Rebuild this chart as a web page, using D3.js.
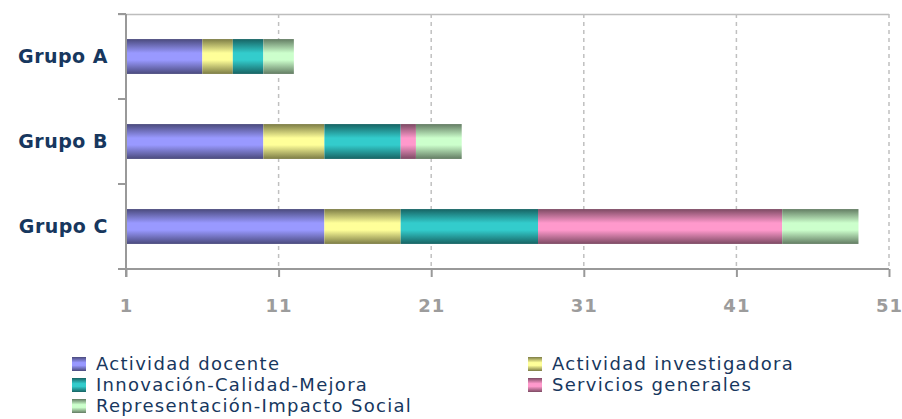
<!DOCTYPE html>
<html>
<head>
<meta charset="utf-8">
<script src="https://cdn.jsdelivr.net/npm/d3@7"></script>
<style>
  body { margin: 0; background: #fff; }
  svg { display: block; font-family: 'DejaVu Sans', sans-serif; }
</style>
</head>
<body>
<div id="chart"></div>
<script>
(() => {
  const categories = ['Grupo A', 'Grupo B', 'Grupo C'];
  const seriesNames = ['Actividad docente', 'Actividad investigadora', 'Innovación-Calidad-Mejora', 'Servicios generales', 'Representación-Impacto Social'];
  const docente = [5, 9, 13];
  const investigadora = [2, 4, 5];
  const innovacion = [2, 5, 9];
  const servicios = [0, 1, 16];
  const representacion = [2, 3, 5];
  const xTicks = [1, 11, 21, 31, 41, 51];
  const axisStart = 1;

  const colors = [
    { light: '#9999ff', dark: '#4a4a7c' },
    { light: '#ffff99', dark: '#7c7c45' },
    { light: '#33cccc', dark: '#176363' },
    { light: '#ff99cc', dark: '#7c4a63' },
    { light: '#ccffcc', dark: '#637c63' }
  ];

  const values = [docente, investigadora, innovacion, servicios, representacion];
  const rows = categories.map((c, i) => {
    const r = { cat: c };
    seriesNames.forEach((s, j) => r[s] = values[j][i]);
    return r;
  });

  const width = 902, height = 419;
  const margin = { top: 14, right: 13, bottom: 150, left: 126 };
  const w = width - margin.left - margin.right;
  const h = height - margin.top - margin.bottom;

  const svg = d3.select('#chart')
    .append('svg')
    .attr('width', width)
    .attr('height', height);

  // Gradientes tipo Excel
  const defs = svg.append('defs');
  colors.forEach((c, i) => {
    const g = defs.append('linearGradient')
      .attr('id', 'grad' + i)
      .attr('x1', 0).attr('y1', 0).attr('x2', 0).attr('y2', 1);
    g.append('stop').attr('offset', '0%').attr('stop-color', c.dark);
    g.append('stop').attr('offset', '40%').attr('stop-color', c.light);
    g.append('stop').attr('offset', '60%').attr('stop-color', c.light);
    g.append('stop').attr('offset', '100%').attr('stop-color', c.dark);
  });

  const g = svg.append('g')
    .attr('transform', `translate(${margin.left},${margin.top})`);

  const x = d3.scaleLinear()
    .domain([xTicks[0], xTicks[xTicks.length - 1]])
    .range([0, w]);

  const y = d3.scaleBand()
    .domain(categories)
    .range([0, h])
    .paddingInner(0.59)
    .paddingOuter(0.295);

  // Borde superior
  g.append('line')
    .attr('x1', -8).attr('x2', w)
    .attr('y1', 0.5).attr('y2', 0.5)
    .attr('stroke', '#bdbdbd').attr('stroke-width', 1.5);

  // Líneas de cuadrícula
  g.selectAll('.grid')
    .data(xTicks.slice(1))
    .enter()
    .append('line')
    .attr('class', 'grid')
    .attr('x1', d => x(d)).attr('x2', d => x(d))
    .attr('y1', 0).attr('y2', h)
    .attr('stroke', '#c0c0c0')
    .attr('stroke-width', 1.5)
    .attr('stroke-dasharray', '4,4');

  const stack = d3.stack().keys(seriesNames);
  const stacked = stack(rows);

  g.selectAll('.serie')
    .data(stacked)
    .enter()
    .append('g')
    .attr('class', 'serie')
    .attr('fill', (d, i) => `url(#grad${i})`)
    .selectAll('rect')
    .data(d => d)
    .enter()
    .append('rect')
    .attr('x', d => x(axisStart + d[0]))
    .attr('y', d => y(d.data.cat))
    .attr('width', d => x(axisStart + d[1]) - x(axisStart + d[0]))
    .attr('height', y.bandwidth());

  // Eje Y
  const yAxis = g.append('g')
    .call(d3.axisLeft(y).tickSize(0).tickPadding(18))
    .attr('font-family', null);
  yAxis.select('.domain').remove();
  yAxis.selectAll('text')
    .attr('fill', '#17375e')
    .attr('font-size', '19px')
    .attr('font-weight', 'bold')
    .attr('letter-spacing', '0.5px');

  const yLine = g.append('g');
  yLine.append('line')
    .attr('x1', 0).attr('x2', 0).attr('y1', 0).attr('y2', h + 8)
    .attr('stroke', '#999').attr('stroke-width', 2);
  yLine.selectAll('.ytick')
    .data(d3.range(categories.length + 1))
    .enter()
    .append('line')
    .attr('x1', -8).attr('x2', 0)
    .attr('y1', i => i * h / categories.length)
    .attr('y2', i => i * h / categories.length)
    .attr('stroke', '#999').attr('stroke-width', 2);

  // Eje X
  const xAxis = g.append('g')
    .attr('transform', `translate(0,${h})`)
    .call(d3.axisBottom(x).tickValues(xTicks).tickSize(8).tickPadding(22))
    .attr('font-family', null);
  xAxis.select('.domain')
    .attr('d', `M-8,0H${w}`)
    .attr('stroke', '#999').attr('stroke-width', 2);
  xAxis.selectAll('.tick line').attr('stroke', '#999').attr('stroke-width', 2);
  xAxis.selectAll('text')
    .attr('fill', '#9c9c9c')
    .attr('font-size', '18px')
    .attr('font-weight', 'bold')
    .attr('letter-spacing', '1px');

  // Leyenda
  const legendPos = [
    { x: 72, y: 357 }, { x: 528, y: 357 },
    { x: 72, y: 378 }, { x: 528, y: 378 },
    { x: 72, y: 399 }
  ];
  const legend = svg.selectAll('.legend')
    .data(seriesNames)
    .enter()
    .append('g')
    .attr('class', 'legend')
    .attr('transform', (d, i) => `translate(${legendPos[i].x},${legendPos[i].y})`);

  legend.append('rect')
    .attr('width', 14).attr('height', 14)
    .attr('fill', (d, i) => `url(#grad${i})`);

  legend.append('text')
    .attr('x', 24)
    .attr('y', 7)
    .attr('dy', '0.36em')
    .attr('fill', '#17375e')
    .attr('font-size', '18px')
    .attr('letter-spacing', '1.3px')
    .text(d => d);
})();
</script>
</body>
</html>
